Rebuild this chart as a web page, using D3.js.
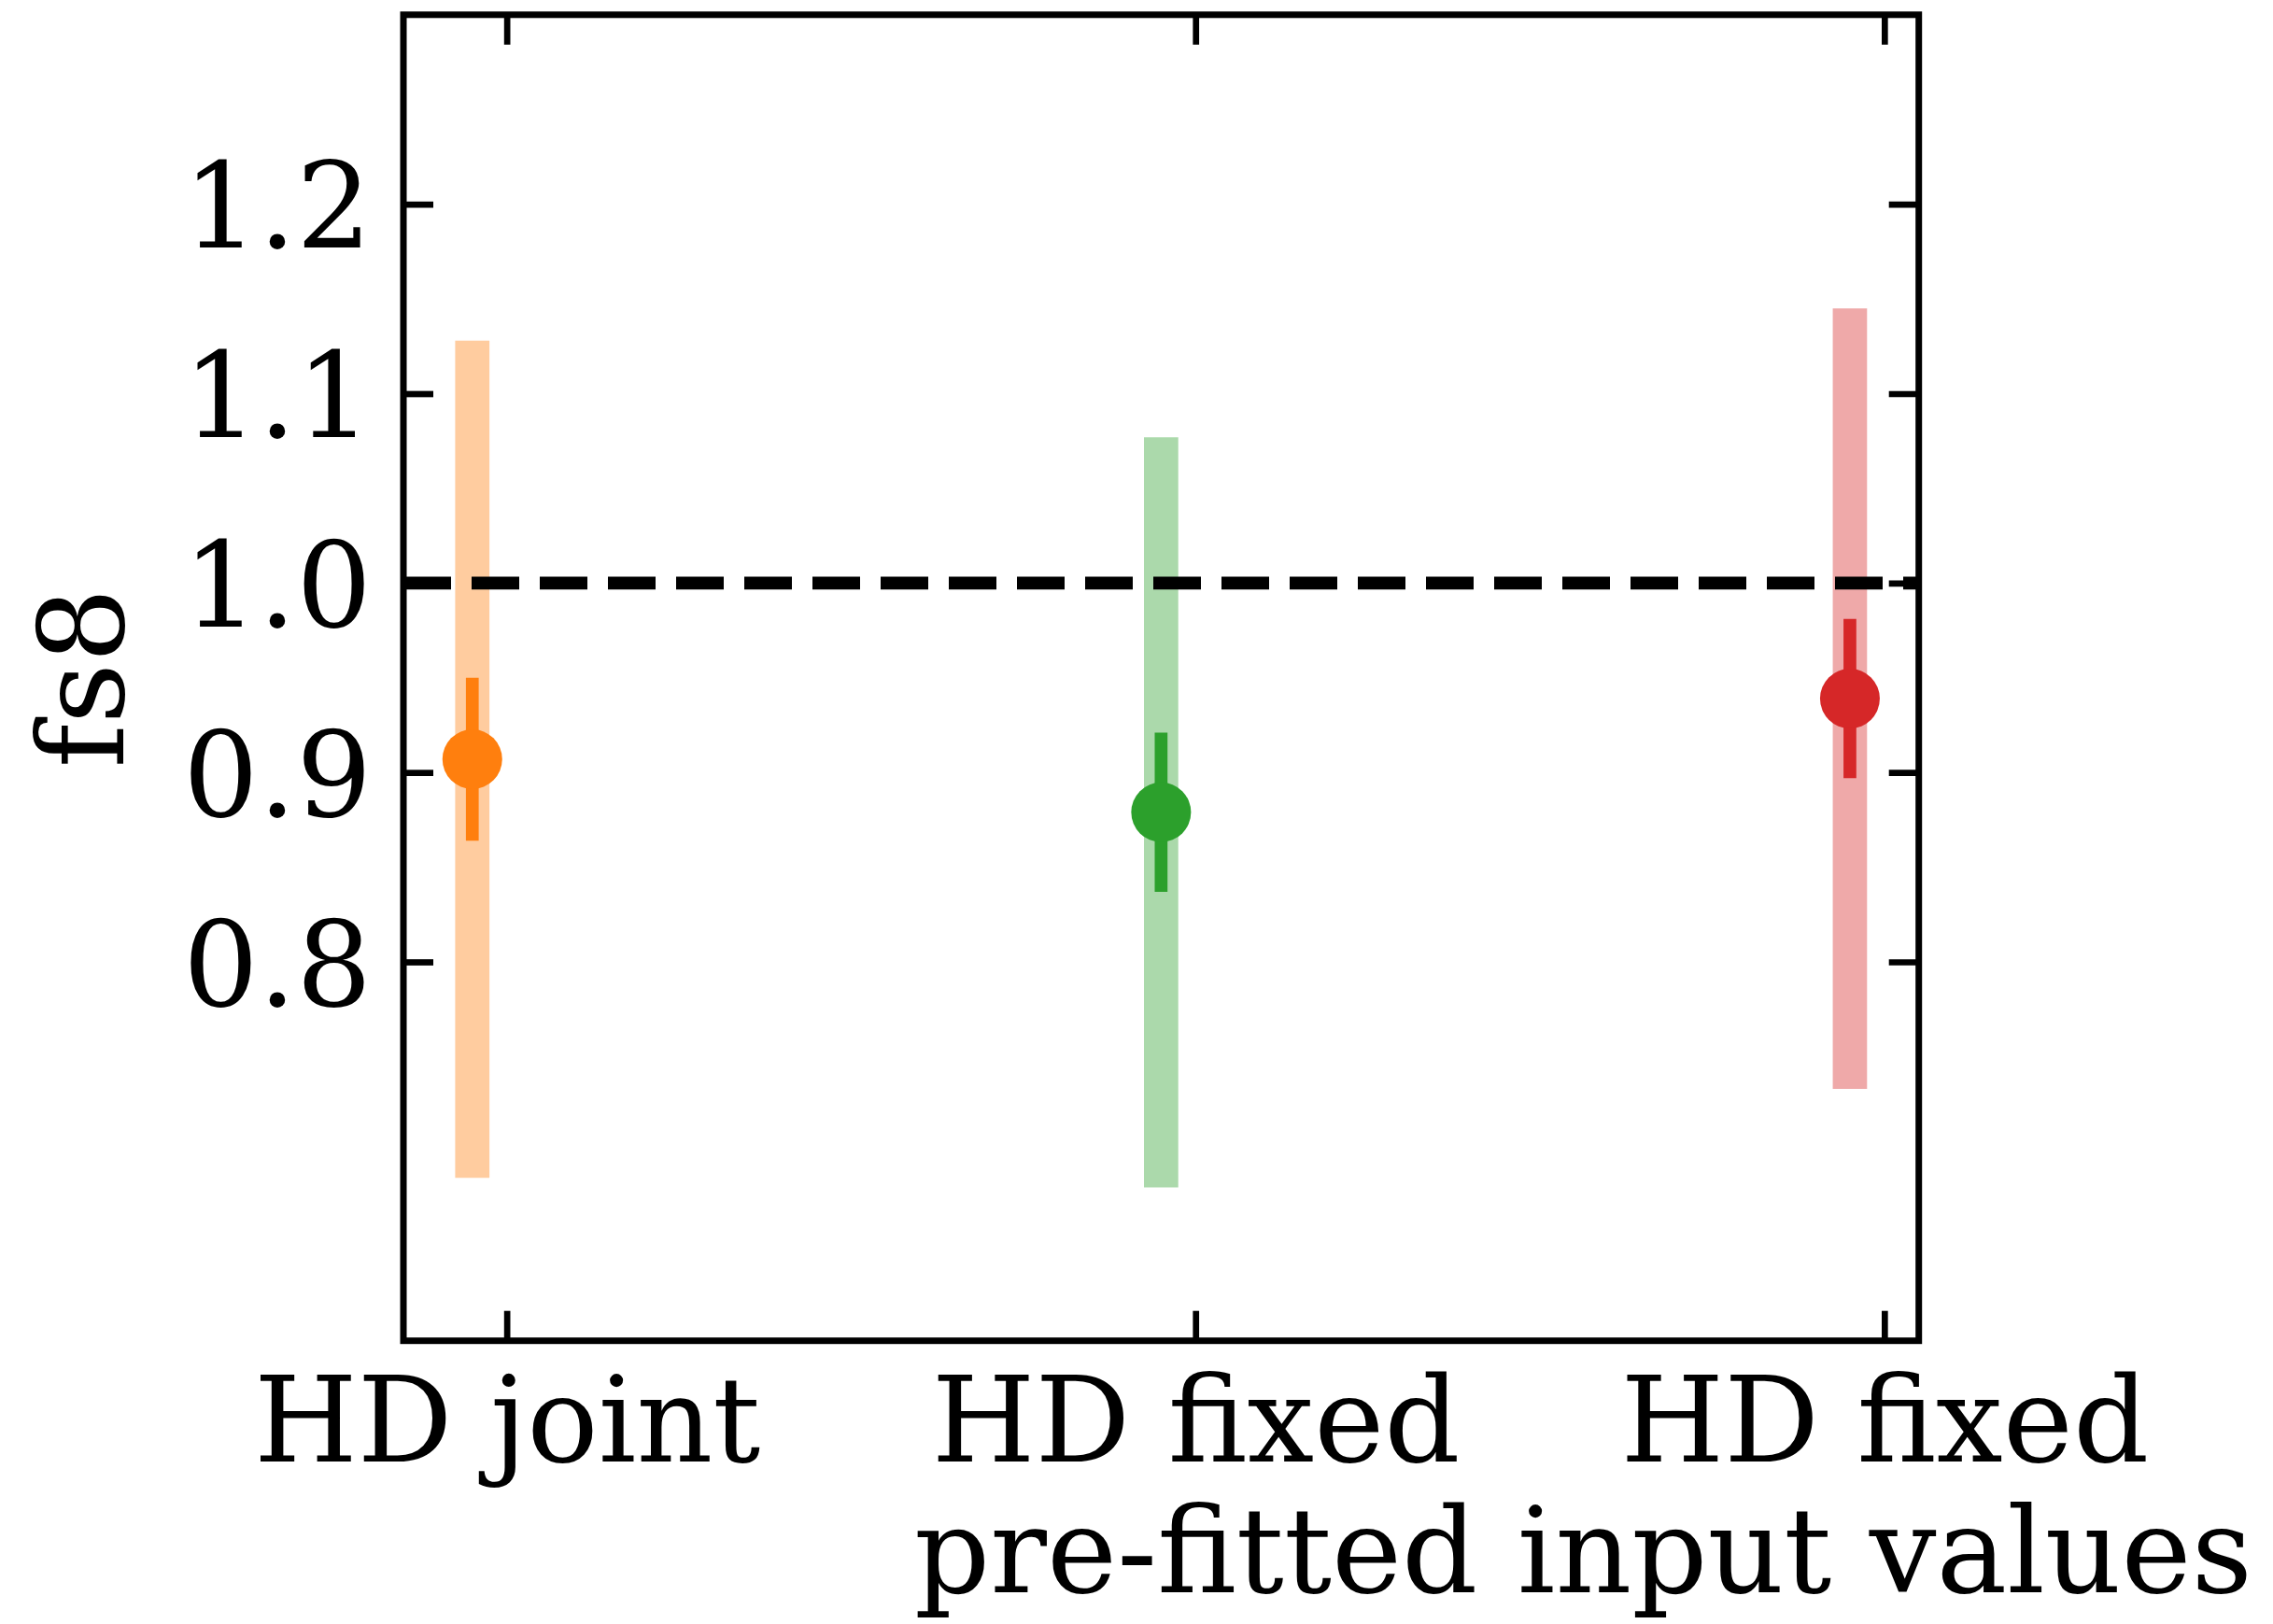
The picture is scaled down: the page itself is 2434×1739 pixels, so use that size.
<!DOCTYPE html>
<html>
<head>
<meta charset="utf-8">
<script src="https://cdn.jsdelivr.net/npm/d3@7"></script>
<style>
  body { margin: 0; background: #fff; }
  svg { display: block; }
  text { font-family: "DejaVu Serif", serif; }
</style>
</head>
<body>
<svg id="chart" width="2434" height="1739"></svg>
<script>
// data
const categories = ["HD joint", "HD fixed\npre-fitted", "HD fixed\ninput values"]
const fs8 = [0.907, 0.879, 0.939]
const errStat = [0.043, 0.042, 0.042]
const errTotal = [0.221, 0.198, 0.206]
const colors = ["#ff7f0e", "#2ca02c", "#d62728"]
const yTicks = [0.8, 0.9, 1.0, 1.1, 1.2]
const refValue = 1.0

const svg = d3.select("#chart")
const frame = {left: 432, right: 2054.7, top: 15.8, bottom: 1435.7}
const fontSize = 127
const tickLen = 32
const shift = -0.05  // markers sit a little left of their tick

svg.append("rect").attr("width", 2434).attr("height", 1739).attr("fill", "#fff")

const x = d3.scaleLinear().domain([-0.15, 2.05]).range([frame.left, frame.right])
const y = d3.scaleLinear().domain([0.6, 1.3]).range([frame.bottom, frame.top])

const pts = categories.map(function(c, i) {
    return {name: c, v: fs8[i], s: errStat[i], t: errTotal[i], color: colors[i], xi: i + shift}
})

// wide, faded bands (total error)
svg.append("g").selectAll("line")
    .data(pts).enter().append("line")
    .attr("x1", d => x(d.xi)).attr("x2", d => x(d.xi))
    .attr("y1", d => y(d.v + d.t)).attr("y2", d => y(d.v - d.t))
    .attr("stroke", d => d.color)
    .attr("stroke-opacity", 0.4)
    .attr("stroke-width", 36.7)

// narrow error bars
svg.append("g").selectAll("line")
    .data(pts).enter().append("line")
    .attr("x1", d => x(d.xi)).attr("x2", d => x(d.xi))
    .attr("y1", d => y(d.v + d.s)).attr("y2", d => y(d.v - d.s))
    .attr("stroke", d => d.color)
    .attr("stroke-width", 13.7)

svg.append("g").selectAll("circle")
    .data(pts).enter().append("circle")
    .attr("cx", d => x(d.xi))
    .attr("cy", d => y(d.v))
    .attr("r", 32)
    .attr("fill", d => d.color)

// reference line
svg.append("line")
    .attr("x1", frame.left).attr("x2", frame.right)
    .attr("y1", y(refValue)).attr("y2", y(refValue))
    .attr("stroke", "#000")
    .attr("stroke-width", 13.7)
    .attr("stroke-dasharray", "51,22")

// axes, ticks pointing inward on all four sides
function styleAxis(g) {
    g.select(".domain").remove()
    g.selectAll(".tick line").attr("stroke", "#000").attr("stroke-width", 6.7)
    g.selectAll("text").attr("fill", "#000").style("font-size", fontSize + "px")
}

svg.append("g")
    .attr("transform", "translate(" + frame.left + ",0)")
    .call(d3.axisLeft(y).tickValues(yTicks).tickSize(-tickLen).tickSizeOuter(0)
        .tickPadding(34).tickFormat(d3.format(".1f")))
    .call(styleAxis)
    .call(g => g.selectAll("text").attr("dy", "0.3645em"))

svg.append("g")
    .attr("transform", "translate(" + frame.right + ",0)")
    .call(d3.axisRight(y).tickValues(yTicks).tickSize(-tickLen).tickSizeOuter(0).tickFormat(""))
    .call(styleAxis)

svg.append("g")
    .attr("transform", "translate(0," + frame.top + ")")
    .call(d3.axisTop(x).tickValues([0, 1, 2]).tickSize(-tickLen).tickSizeOuter(0).tickFormat(""))
    .call(styleAxis)

const xAxis = svg.append("g")
    .attr("transform", "translate(0," + frame.bottom + ")")
    .call(d3.axisBottom(x).tickValues([0, 1, 2]).tickSize(-tickLen).tickSizeOuter(0).tickFormat(""))
    .call(styleAxis)

xAxis.selectAll(".tick").each(function(d) {
    const lines = categories[d].split("\n")
    const t = d3.select(this).append("text")
        .attr("text-anchor", "middle")
        .attr("fill", "#000")
        .style("font-size", fontSize + "px")
    lines.forEach(function(l, k) {
        t.append("tspan").attr("x", 0).attr("y", 129 + k * 140).text(l)
    })
})

// frame
svg.append("rect")
    .attr("x", frame.left).attr("y", frame.top)
    .attr("width", frame.right - frame.left)
    .attr("height", frame.bottom - frame.top)
    .attr("fill", "none")
    .attr("stroke", "#000")
    .attr("stroke-width", 7)

svg.append("text")
    .attr("transform", "translate(132," + ((frame.top + frame.bottom) / 2) + ") rotate(-90)")
    .attr("text-anchor", "middle")
    .style("font-size", fontSize + "px")
    .attr("fill", "#000")
    .text("fs8")
</script>
</body>
</html>
